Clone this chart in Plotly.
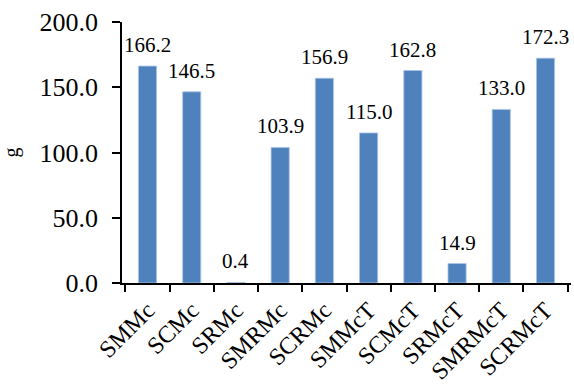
import plotly.graph_objects as go

categories = ["SMMc", "SCMc", "SRMc", "SMRMc", "SCRMc",
              "SMMcT", "SCMcT", "SRMcT", "SMRMcT", "SCRMcT"]
values = [166.2, 146.5, 0.4, 103.9, 156.9, 115.0, 162.8, 14.9, 133.0, 172.3]
y_ticks = [0, 50, 100, 150, 200]
y_title = "g"

FONT = "Liberation Serif"
BAR = "#4F81BD"

fig = go.Figure()
fig.add_trace(go.Bar(
    x=categories,
    y=values,
    marker=dict(color=BAR, line=dict(color="#A9C4E8", width=0.8)),
    width=0.41,
    hoverinfo="x+y",
))

# value labels above each bar
for c, v in zip(categories, values):
    fig.add_annotation(
        x=c, y=v, text=f"{v:.1f}", showarrow=False,
        yanchor="bottom", yshift=7,
        font=dict(family=FONT, size=21, color="#000000"),
    )

fig.update_layout(
    width=574, height=387,
    margin=dict(l=122, r=3, t=22, b=104),
    paper_bgcolor="white", plot_bgcolor="white",
    showlegend=False,
    font=dict(family=FONT, color="#000000"),
)
fig.update_xaxes(
    type="category",
    automargin=False,
    showline=True, linecolor="#000000", linewidth=1.5,
    ticks="outside", ticklen=7, tickwidth=1.5, tickcolor="#000000",
    tickson="boundaries",
    tickangle=-45,
    ticklabelstandoff=2,
    tickfont=dict(family=FONT, size=24, color="#000000"),
    showgrid=False, zeroline=False,
)
fig.update_yaxes(
    range=[0, 200],
    automargin=False,
    tickvals=y_ticks,
    ticktext=[f"{t:.1f}" for t in y_ticks],
    showline=True, linecolor="#000000", linewidth=1.5,
    ticks="outside", ticklen=8, tickwidth=1.5, tickcolor="#000000",
    ticklabelstandoff=9,
    tickfont=dict(family=FONT, size=26, color="#000000"),
    showgrid=False, zeroline=False,
    title=dict(text=y_title, font=dict(family=FONT, size=20, color="#000000"), standoff=20),
)

fig.write_html("out.html")
